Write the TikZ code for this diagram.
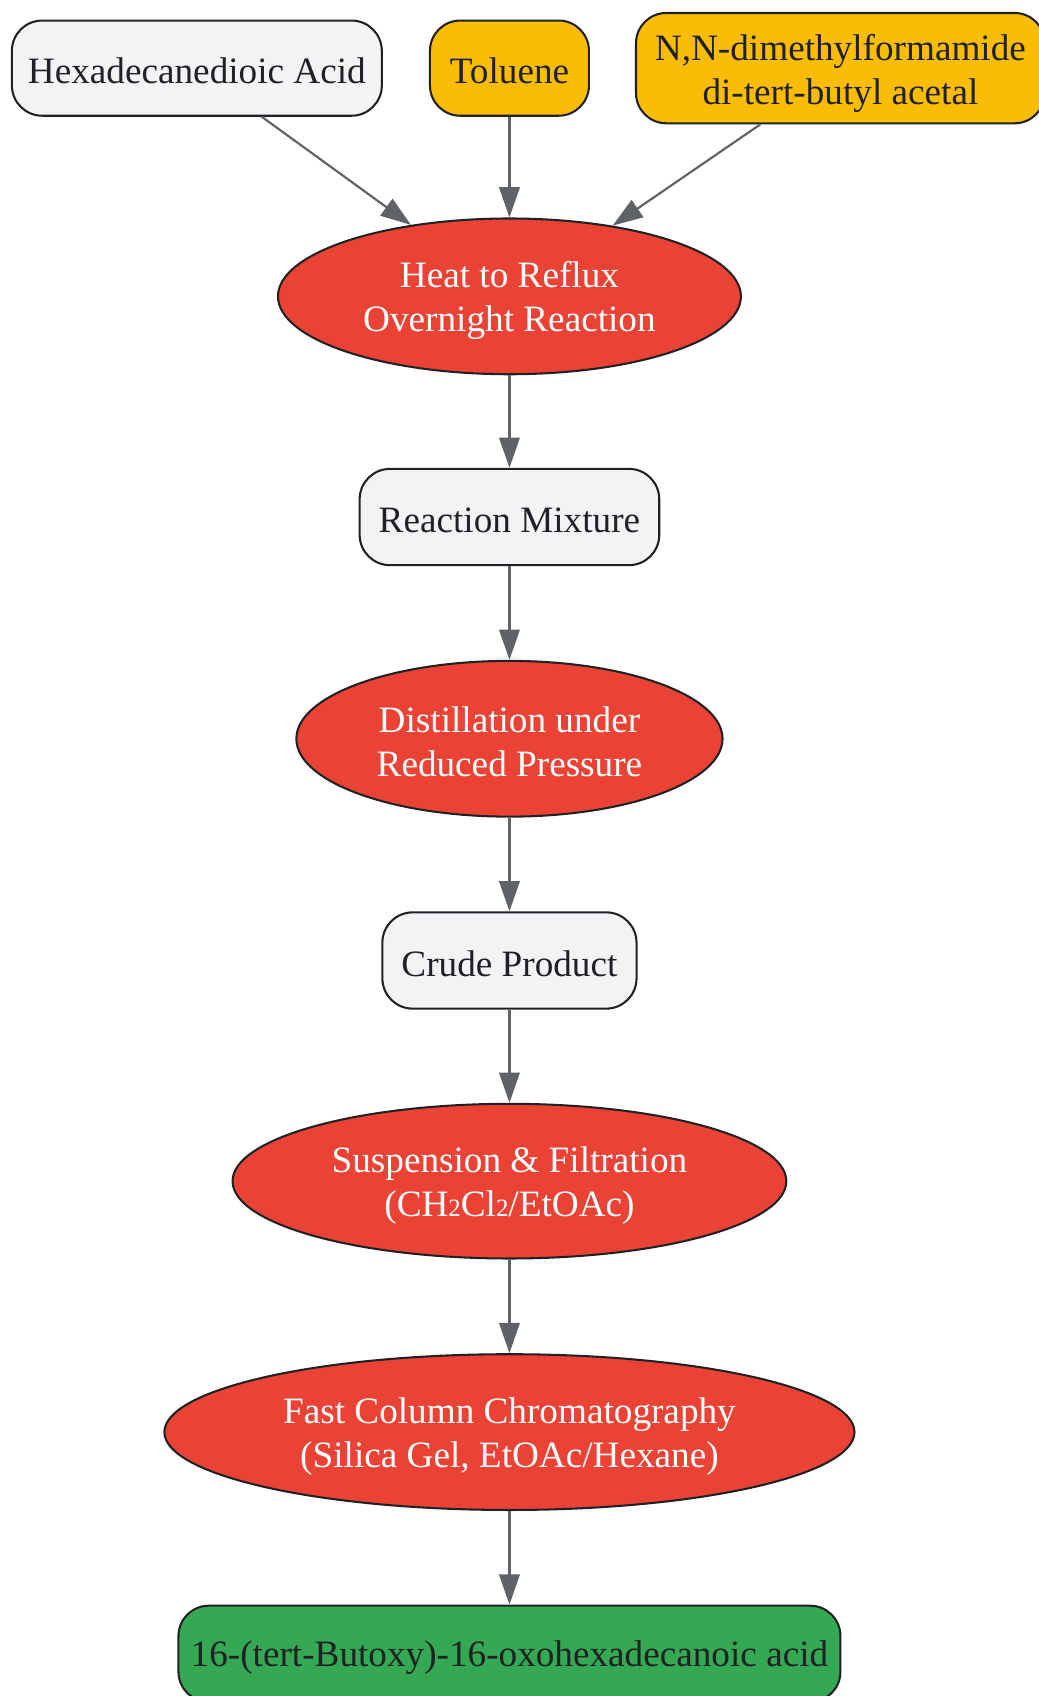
\documentclass[tikz,border=0pt]{standalone}
\usepackage{fontspec}
\setmainfont{Liberation Serif}
\usetikzlibrary{shapes.geometric,arrows.meta}
\definecolor{lightfill}{HTML}{F2F3F5}
\definecolor{amber}{HTML}{FBBC05}
\definecolor{redfill}{HTML}{EA4335}
\definecolor{greenfill}{HTML}{34A853}
\definecolor{strokec}{HTML}{202124}
\definecolor{arrowc}{HTML}{5F6368}
\definecolor{textdark}{HTML}{202124}
\newcommand{\subtwo}{{\fontsize{23}{23}\selectfont 2}}
\newcommand{\topstrut}{\rule{0pt}{32pt}}
\newcommand{\onestrut}{\rule{0pt}{29pt}}
\begin{document}
\begin{tikzpicture}[x=1pt,y=-1pt,
  box/.style={draw=strokec, line width=1.9pt, rounded corners=28pt, inner sep=0pt,
    align=center, text=textdark, font=\fontsize{34.4}{41}\selectfont},
  oval/.style={ellipse, draw=strokec, line width=1.9pt, fill=redfill, text=white,
    inner sep=0pt, align=center, font=\fontsize{34.4}{41}\selectfont},
  arr/.style={draw=arrowc, line width=2pt, -{Triangle[length=28pt,width=19pt]}}]
\useasboundingbox (0,0) rectangle (960,1568);

\node[box, fill=lightfill, minimum width=342pt, minimum height=88pt] (hexa) at (182,63) {\onestrut Hexadecanedioic Acid};
\node[box, fill=amber, minimum width=147pt, minimum height=88pt] (tol) at (471,63) {\onestrut Toluene};
\node[box, fill=amber, minimum width=378pt, minimum height=102pt] (dmf) at (777,63) {\rule{0pt}{34pt}N,N-dimethylformamide\\di-tert-butyl acetal};

\node[oval, minimum width=428pt, minimum height=144pt] (heat) at (471,274) {\topstrut Heat to Reflux\\Overnight Reaction};
\node[box, fill=lightfill, minimum width=277pt, minimum height=89pt] (mix) at (471,478) {\onestrut Reaction Mixture};
\node[oval, minimum width=394pt, minimum height=144pt] (dist) at (471,683) {\rule{0pt}{29pt}Distillation under\\Reduced Pressure};
\node[box, fill=lightfill, minimum width=235pt, minimum height=89pt] (crude) at (471,888) {\onestrut Crude Product};
\node[oval, minimum width=512pt, minimum height=143pt] (susp) at (471,1092) {\topstrut Suspension \& Filtration\\(CH\subtwo Cl\subtwo/EtOAc)};
\node[oval, minimum width=638pt, minimum height=144pt] (fast) at (471,1324) {\topstrut Fast Column Chromatography\\(Silica Gel, EtOAc/Hexane)};
\node[box, fill=greenfill, minimum width=612pt, minimum height=89pt] (final) at (471,1529) {\rule{0pt}{31pt}16-(tert-Butoxy)-16-oxohexadecanoic acid};

\draw[arr] ([xshift=60pt]hexa.south) -- (heat);
\draw[arr] (tol) -- (heat);
\draw[arr] ([xshift=-74pt]dmf.south) -- (heat);
\draw[arr] (heat) -- (mix);
\draw[arr] (mix) -- (dist);
\draw[arr] (dist) -- (crude);
\draw[arr] (crude) -- (susp);
\draw[arr] (susp) -- (fast);
\draw[arr] (fast) -- (final);
\end{tikzpicture}
\end{document}
